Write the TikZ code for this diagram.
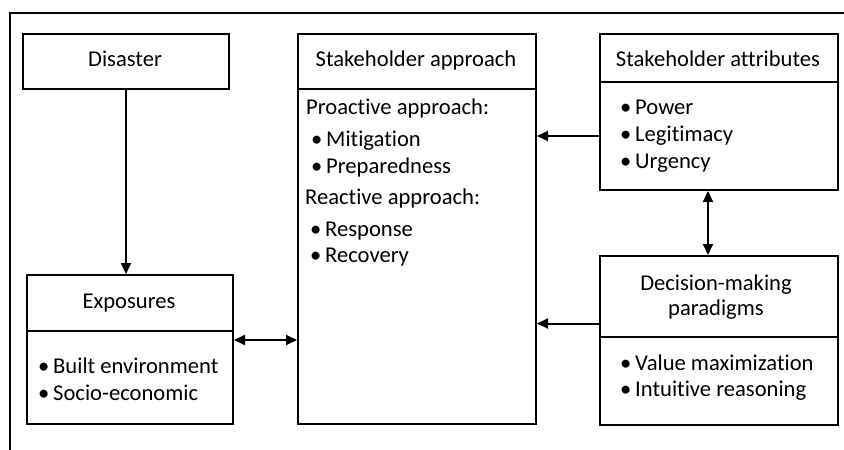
\documentclass[tikz,border=0pt]{standalone}
\usepackage{fontspec}
\setmainfont{Carlito}[Ligatures=NoCommon]
\usetikzlibrary{arrows.meta}
\begin{document}
\begin{tikzpicture}[x=1pt,y=-1pt,
  box/.style={draw, line width=2pt, inner sep=0pt, anchor=north west},
  txt/.style={inner sep=0pt, font=\fontsize{22.6}{26}\selectfont},
  itm/.style={txt, anchor=base west},
  head/.style={txt, anchor=base},
  conn/.style={line width=2pt, -{Triangle[length=11pt,width=10pt]}},
  conn2/.style={line width=2pt, {Triangle[length=11pt,width=10pt]}-{Triangle[length=11pt,width=10pt]}}]
\useasboundingbox (0,0) rectangle (844,450);
\newcommand{\bul}[1]{\makebox[15pt][l]{•}#1}

% partial outer frame
\coordinate (fr) at (9.5,13);
\draw[line width=2pt] (fr |- 0,450) -- (fr) -- (844,13);

% Disaster
\node[box, minimum width=206pt, minimum height=55pt] (dis) at (22,33) {};
\node[head] (disT) at (125,66.7) {Disaster};

% Exposures
\node[box, minimum width=206pt, minimum height=56pt] (expH) at (26,274) {};
\node[box, minimum width=206pt, minimum height=93pt] (expB) at (26,330) {};
\node[head] (expT) at (129,308.3) {Exposures};
\node[itm] (exp1) at (38,373.3) {\bul{Built environment}};
\node[itm] (exp2) at (38,400.7) {\bul{Socio-economic}};

% Stakeholder approach
\node[box, minimum width=238pt, minimum height=55pt] (apH) at (297,33) {};
\node[box, minimum width=238pt, minimum height=335pt] (apB) at (297,88) {};
\node[head] (apT) at (416,66.7) {Stakeholder approach};
\node[itm] (ap1) at (306,114) {Proactive approach:};
\node[itm] (ap2) at (311,146.7) {\bul{Mitigation}};
\node[itm] (ap3) at (311,173.5) {\bul{Preparedness}};
\node[itm] (ap4) at (305,204) {Reactive approach:};
\node[itm] (ap5) at (310,236) {\bul{Response}};
\node[itm] (ap6) at (310,262.7) {\bul{Recovery}};

% Stakeholder attributes
\node[box, minimum width=238pt, minimum height=48pt] (atH) at (599,33) {};
\node[box, minimum width=238pt, minimum height=108pt] (atB) at (599,81) {};
\node[head] (atT) at (718,66.7) {Stakeholder attributes};
\node[itm] (at1) at (620,114.3) {\bul{Power}};
\node[itm] (at2) at (620,141.7) {\bul{Legitimacy}};
\node[itm] (at3) at (620,168.3) {\bul{Urgency}};

% Decision-making paradigms
\node[box, minimum width=238pt, minimum height=81pt] (deH) at (599,255) {};
\node[box, minimum width=238pt, minimum height=88pt] (deB) at (599,336) {};
\node[head] (deT1) at (716,290) {Decision-making};
\node[head] (deT2) at (716,315) {paradigms};
\node[itm] (de1) at (620,370) {\bul{Value maximization}};
\node[itm] (de2) at (620,396.7) {\bul{Intuitive reasoning}};

% connectors
\draw[conn] (dis.south) -- (dis.south |- expH.north);
\draw[conn] (atB.west) -- (atB.west -| apB.east);
\draw[conn] ([yshift=-27pt]deH.west) -- ([yshift=-27pt]deH.west -| apB.east);
\draw[conn2] ([yshift=-10pt]expB.north east) -- ([yshift=-10pt]expB.north east -| apB.west);
\draw[conn2] ([xshift=-11pt]atB.south) -- ([xshift=-11pt]atB.south |- deH.north);
\end{tikzpicture}
\end{document}
